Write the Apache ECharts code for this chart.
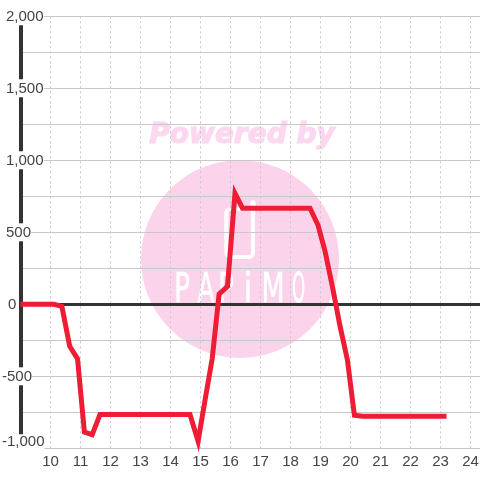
<!DOCTYPE html>
<html><head><meta charset="utf-8">
<style>html,body{margin:0;padding:0;background:#fff}#c{width:480px;height:480px}</style>
<script src="https://cdn.jsdelivr.net/npm/echarts@6/dist/echarts.min.js"></script>
</head><body><div id="c"></div>
<script>
const hours  = [9,10.12,10.38,10.64,10.9,11.13,11.39,11.65,14.65,14.92,15.15,15.39,15.62,15.9,16.15,16.4,18.65,18.92,19.15,19.4,19.65,19.9,20.13,20.4,23.2];
const values = [0,0,-15,-292,-377,-887,-905,-766,-766,-951,-667,-377,70,125,770,667,667,549,370,120,-150,-389,-771,-778,-778];
const hourTicks = [10,11,12,13,14,15,16,17,18,19,20,21,22,23,24];
const valueTicks = [2000,1500,1000,500,0,-500,-1000];
const fmt = v => Math.abs(v).toLocaleString('en-US');
const chart = echarts.init(document.getElementById('c'), null, {renderer:'canvas'});
const font = 'Liberation Sans';
const pink = '#fbd4ec';
const wm = (t,x,sx)=>({type:'text',z:-9,x:x,y:292,scaleX:sx,silent:true,
  style:{text:t,font:'40px "DejaVu Sans"',fill:'#fff',stroke:'#fff',lineWidth:0.6,align:'center',verticalAlign:'middle'}});
chart.setOption({
  animation:false,
  backgroundColor:'#fff',
  graphic:[
    {type:'circle',z:-10,shape:{cx:240,cy:259,r:99},style:{fill:pink},silent:true},
    {type:'text',z:-10,x:242,y:136,silent:true,style:{text:'Powered by',font:'italic bold 28px "DejaVu Sans"',fill:'#fbd8ef',stroke:'#fbd8ef',lineWidth:1.2,align:'center',verticalAlign:'middle'}},
    {type:'rect',z:-9,shape:{x:226.3,y:209,width:26.7,height:48,r:4},style:{fill:'none',stroke:'#fff',lineWidth:4},silent:true},
    {type:'line',z:-9,shape:{x1:253,y1:202.5,x2:253,y2:210},style:{stroke:'#fff',lineWidth:5,lineCap:'round'},silent:true},
    wm('P',182,0.65),wm('A',206,0.62),wm('P',226,0.65),wm('i',248,0.8),wm('M',273,0.67),wm('O',298.5,0.42)
  ],
  grid:{left:20.5,right:0,top:16.3,bottom:31.7,outerBoundsMode:'none'},
  xAxis:[
    {type:'value',position:'bottom',min:9,max:24.317,interval:1,
     axisLine:{onZero:false,show:false},axisTick:{show:false},
     axisLabel:{color:'#444',fontFamily:font,fontSize:15,margin:6,
       formatter:v=>hourTicks.includes(v)?String(v):''},
     splitLine:{show:true,lineStyle:{color:'#c8c8c8',width:1,type:[2,3]}}},
    {type:'value',position:'top',min:9,max:24.317,interval:1,
     axisLine:{onZero:true,show:true,lineStyle:{color:'#333',width:3}},
     axisTick:{show:false},axisLabel:{show:false},splitLine:{show:false}}
  ],
  yAxis:{type:'value',min:-1000,max:2000,interval:250,
    axisLine:{show:true,onZero:false,lineStyle:{color:'#333',width:4}},
    axisTick:{show:false},
    axisLabel:{inside:true,align:'left',margin:-18.5,color:'#444',fontFamily:font,fontSize:15,
      formatter:v=>{
        if(!valueTicks.includes(v)) return '';
        const s=(v<0?'-':'')+fmt(v);
        if(v===-1000) return `{b|${s}}`;
        return v<0?`{n|${s}}`:(v===0?`{z|${s}}`:`{p|${s}}`);
      },
      rich:{
        b:{backgroundColor:'#fff',height:16,color:'#444',fontFamily:font,fontSize:15,padding:[0,0,12,0]},
        n:{backgroundColor:'#fff',height:16,color:'#444',fontFamily:font,fontSize:15,padding:[2,0,0,0]},
        p:{backgroundColor:'#fff',height:16,color:'#444',fontFamily:font,fontSize:15,padding:[2,0,0,4]},
        z:{height:16,color:'#444',fontFamily:font,fontSize:15,padding:[2,0,0,6]}
      }},
    splitLine:{show:true,lineStyle:{color:'#c8c8c8',width:1}}},
  series:[{type:'line',xAxisIndex:0,data:hours.map((h,i)=>[h,values[i]]),showSymbol:false,symbol:'none',
    lineStyle:{color:'#ee1c34',width:5,join:'miter'},clip:false}]
});
</script></body></html>
